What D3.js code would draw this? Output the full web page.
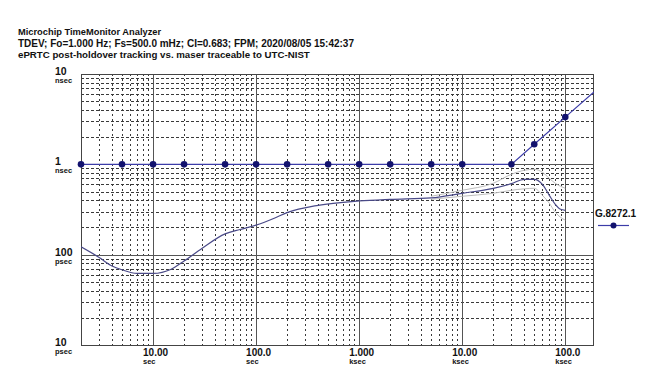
<!DOCTYPE html>
<html>
<head>
<meta charset="utf-8">
<script src="https://cdn.jsdelivr.net/npm/d3@7"></script>
<style>
  html, body { margin: 0; padding: 0; background: #fff; }
  svg text { font-family: "Liberation Sans", Arial, sans-serif; font-weight: bold; fill: #111; }
</style>
</head>
<body>
<div id="chart"></div>
<script>
(function () {
  "use strict";

  // ── Datos ──────────────────────────────────────────────
  const titleLines = [
    "Microchip TimeMonitor Analyzer",
    "TDEV; Fo=1.000 Hz; Fs=500.0 mHz; CI=0.683; FPM; 2020/08/05 15:42:37",
    "ePRTC post-holdover tracking vs. maser traceable to UTC-NIST"
  ];

  // TDEV medido (tau en s, valor en ns)
  const tdevTau = [2, 3, 4, 5, 7, 10, 15, 20, 30, 50, 70, 100, 150, 200, 400, 1000, 2000, 5000, 10000, 20000, 30000, 40000, 50000, 60000, 70000, 80000, 90000, 100000];
  const tdevNs = [0.122, 0.093, 0.075, 0.068, 0.062, 0.062, 0.069, 0.085, 0.118, 0.170, 0.190, 0.212, 0.253, 0.292, 0.352, 0.393, 0.410, 0.426, 0.478, 0.543, 0.612, 0.683, 0.683, 0.601, 0.454, 0.361, 0.318, 0.310];

  // Límites de confianza (gris claro)
  const ciTau = [5000, 10000, 20000, 30000, 40000, 50000, 60000, 70000, 80000, 90000, 100000];
  const ciUpperNs = [0.443, 0.516, 0.617, 0.776, 0.859, 0.881, 0.816, 0.700, 0.617, 0.571, 0.543];
  const ciLowerNs = [0.410, 0.443, 0.478, 0.516, 0.536, 0.543, 0.454, 0.371, 0.295, 0.259, 0.241];

  // Máscara G.8272.1
  const maskTau = [2, 5, 10, 20, 50, 100, 200, 500, 1000, 2000, 5000, 10000, 30000, 50000, 100000, 190000];
  const maskNs = [1, 1, 1, 1, 1, 1, 1, 1, 1, 1, 1, 1, 1, 1.667, 3.333, 6.333];
  const maskMarked = 15; // puntos con marcador

  const xTicks = [10, 100, 1000, 10000, 100000];
  const xTickLabels = [["10.00", "sec"], ["100.0", "sec"], ["1.000", "ksec"], ["10.00", "ksec"], ["100.0", "ksec"]];
  const yTicks = [10, 1, 0.1, 0.01];
  const yTickLabels = [["10", "nsec"], ["1", "nsec"], ["100", "psec"], ["10", "psec"]];
  const legendLabel = "G.8272.1";

  // ── Setup ──────────────────────────────────────────────
  const width = 655, height = 378;
  const PLOT = { left: 81, right: 594, top: 74, bottom: 345 };

  const svg = d3.select("#chart").append("svg").attr("width", width).attr("height", height);

  const x = d3.scaleLog().domain([2, 190000]).range([PLOT.left, PLOT.right]);
  const y = d3.scaleLog().domain([0.01, 10]).range([PLOT.bottom, PLOT.top]);

  // Título
  const titleSizes = ["9.3px", "10px", "9.7px"];
  titleLines.forEach((t, i) => {
    svg.append("text").attr("x", 18).attr("y", 35 + i * 11.5)
      .attr("font-size", titleSizes[i]).text(t);
  });

  // Rejilla
  const grid = svg.append("g");
  const minorX = [], minorY = [];
  for (let d = 1; d <= 100000; d *= 10) {
    for (let k = 2; k <= 9; k++) {
      const v = k * d;
      if (v > 2 && v < 190000) minorX.push(v);
    }
  }
  for (let d = 0.01; d < 10; d *= 10) {
    for (let k = 2; k <= 9; k++) minorY.push(k * d);
  }

  grid.selectAll(".vmin").data(minorX).join("line")
    .attr("x1", (d) => Math.round(x(d)) + 0.5).attr("x2", (d) => Math.round(x(d)) + 0.5)
    .attr("y1", PLOT.top).attr("y2", PLOT.bottom)
    .attr("stroke", "#3a3a3a").attr("stroke-width", 1).attr("stroke-dasharray", "2,3");

  grid.selectAll(".hmin").data(minorY).join("line")
    .attr("x1", PLOT.left).attr("x2", PLOT.right)
    .attr("y1", (d) => Math.round(y(d)) + 0.5).attr("y2", (d) => Math.round(y(d)) + 0.5)
    .attr("stroke", "#3a3a3a").attr("stroke-width", 1).attr("stroke-dasharray", "3,2");

  grid.selectAll(".vmaj").data(xTicks).join("line")
    .attr("x1", (d) => Math.round(x(d)) + 0.5).attr("x2", (d) => Math.round(x(d)) + 0.5)
    .attr("y1", PLOT.top).attr("y2", PLOT.bottom)
    .attr("stroke", "#555").attr("stroke-width", 1);

  grid.selectAll(".hmaj").data(yTicks).join("line")
    .attr("x1", PLOT.left).attr("x2", PLOT.right)
    .attr("y1", (d) => Math.round(y(d)) + 0.5).attr("y2", (d) => Math.round(y(d)) + 0.5)
    .attr("stroke", "#555").attr("stroke-width", 1);

  svg.append("rect").attr("x", PLOT.left + 0.5).attr("y", PLOT.top + 0.5)
    .attr("width", PLOT.right - PLOT.left - 1).attr("height", PLOT.bottom - PLOT.top)
    .attr("fill", "none").attr("stroke", "#444").attr("stroke-width", 1);

  // Etiquetas de ejes
  yTicks.forEach((v, i) => {
    const yy = y(v);
    svg.append("text").attr("x", 55).attr("y", yy + 1).attr("font-size", "10.5px").text(yTickLabels[i][0]);
    svg.append("text").attr("x", 55).attr("y", yy + 9).attr("font-size", "7.5px").text(yTickLabels[i][1]);
  });
  xTicks.forEach((v, i) => {
    const xx = x(v) - 10;
    svg.append("text").attr("x", xx).attr("y", 356).attr("font-size", "10px").text(xTickLabels[i][0]);
    svg.append("text").attr("x", xx).attr("y", 364).attr("font-size", "7.5px").text(xTickLabels[i][1]);
  });

  // Clip
  svg.append("clipPath").attr("id", "plot-clip").append("rect")
    .attr("x", PLOT.left).attr("y", PLOT.top)
    .attr("width", PLOT.right - PLOT.left).attr("height", PLOT.bottom - PLOT.top);

  const gData = svg.append("g").attr("clip-path", "url(#plot-clip)");

  const line = d3.line().x((d) => x(d[0])).y((d) => y(d[1]));
  const smooth = d3.line().x((d) => x(d[0])).y((d) => y(d[1])).curve(d3.curveMonotoneX);

  // Confianza
  gData.append("path").attr("d", smooth(d3.zip(ciTau, ciUpperNs)))
    .attr("fill", "none").attr("stroke", "#bdbdbd").attr("stroke-width", 1);
  gData.append("path").attr("d", smooth(d3.zip(ciTau, ciLowerNs)))
    .attr("fill", "none").attr("stroke", "#bdbdbd").attr("stroke-width", 1);

  // TDEV
  gData.append("path").attr("d", smooth(d3.zip(tdevTau, tdevNs)))
    .attr("fill", "none").attr("stroke", "#4a4a88").attr("stroke-width", 1.2);

  // Máscara
  const maskPts = d3.zip(maskTau, maskNs);
  gData.append("path").attr("d", line(maskPts))
    .attr("fill", "none").attr("stroke", "#3c3ca8").attr("stroke-width", 1.2);
  svg.selectAll(".mk").data(maskPts.slice(0, maskMarked)).join("circle")
    .attr("cx", (d) => x(d[0])).attr("cy", (d) => y(d[1])).attr("r", 3.3)
    .attr("fill", "#12126e");

  // Leyenda
  svg.append("text").attr("x", 595).attr("y", 217).attr("font-size", "10px").text(legendLabel);
  svg.append("line").attr("x1", 598).attr("x2", 629).attr("y1", 225.5).attr("y2", 225.5)
    .attr("stroke", "#3c3ca8").attr("stroke-width", 1.2);
  svg.append("circle").attr("cx", 613.5).attr("cy", 225.5).attr("r", 3).attr("fill", "#12126e");
})();
</script>
</body>
</html>
